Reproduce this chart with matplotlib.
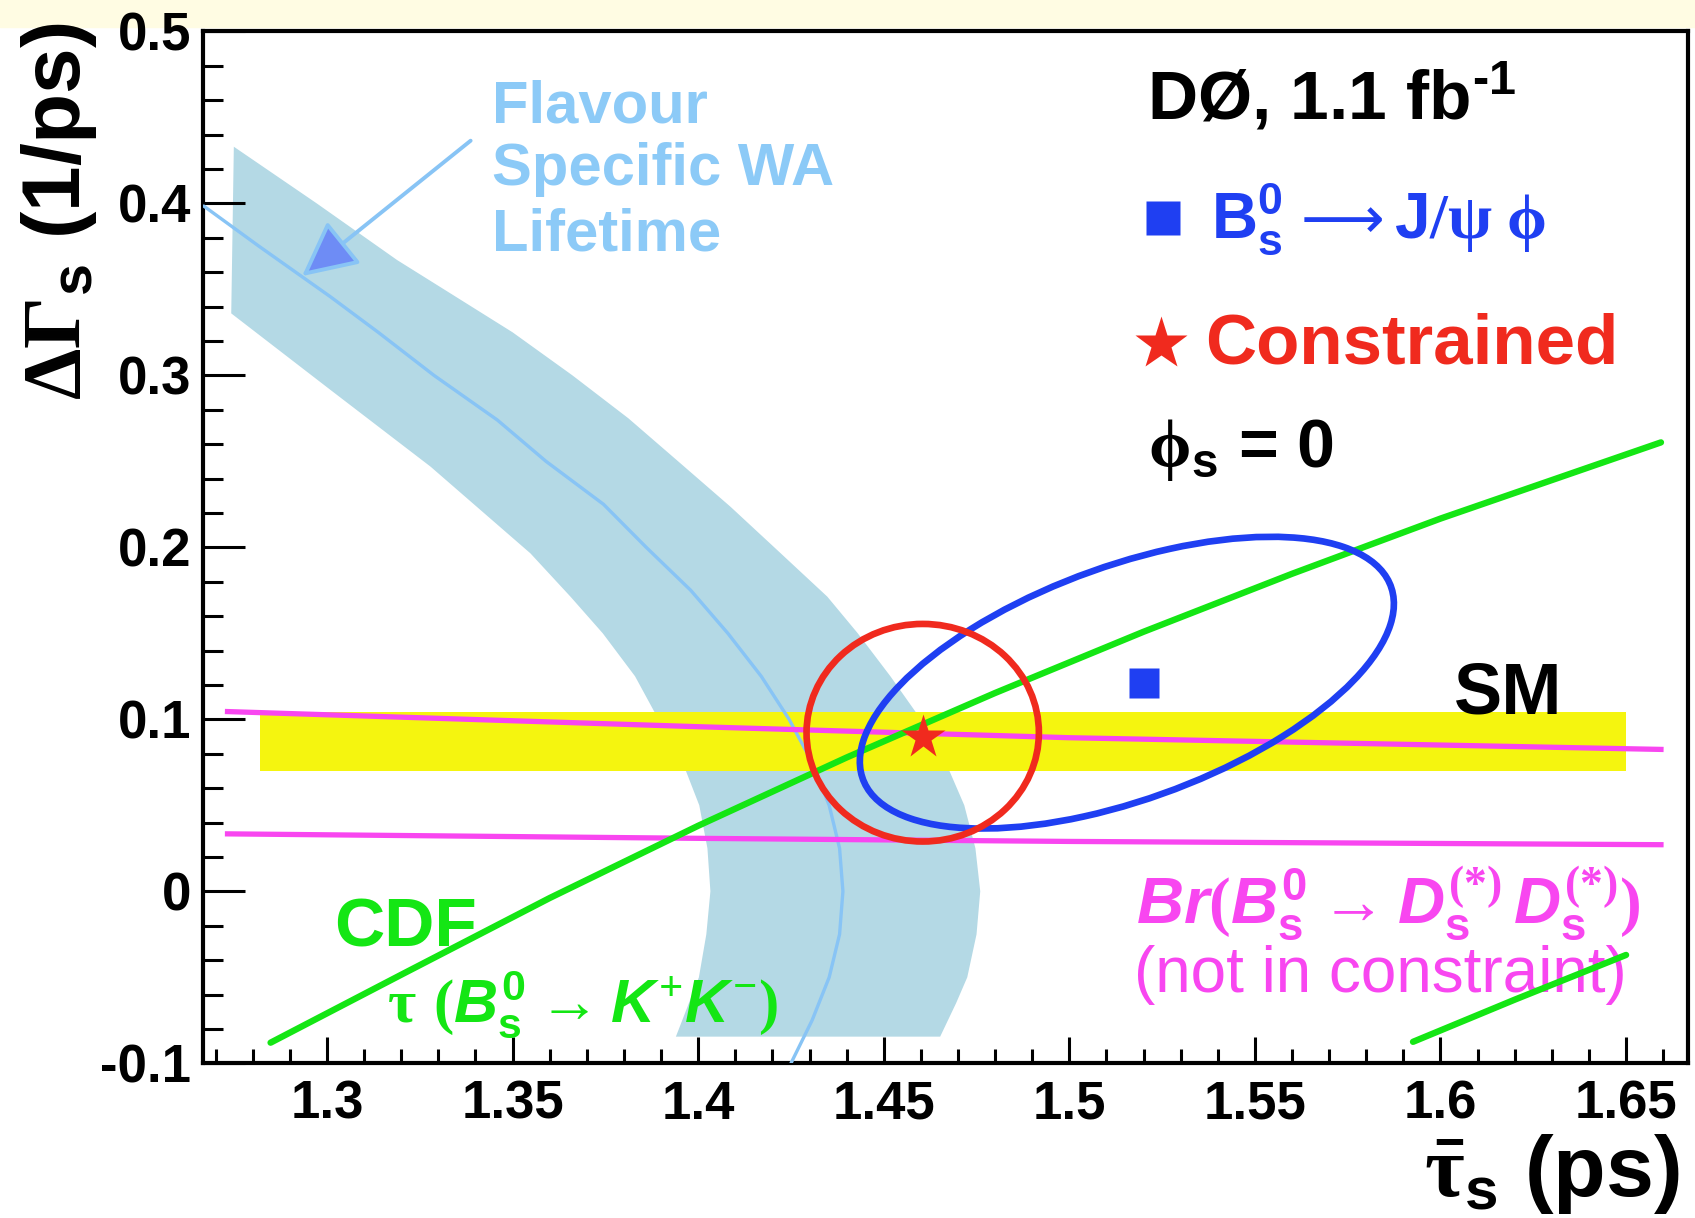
import matplotlib
matplotlib.use("Agg")
import matplotlib.pyplot as plt
from matplotlib.patches import Ellipse, Rectangle
from matplotlib.ticker import MultipleLocator

# flavour-specific world average band: upper edge (top-left -> bottom), lower edge (bottom -> top-left)
band_up_x = [1.2749, 1.2972, 1.3189, 1.3315, 1.3500, 1.3661, 1.3812, 1.3946, 1.4087,
             1.4205, 1.4348, 1.4430, 1.4518, 1.4600, 1.4667, 1.4717, 1.4747, 1.4760,
             1.4750, 1.4725, 1.4695, 1.4652]
band_up_y = [0.4329, 0.4000, 0.3670, 0.3500, 0.3250, 0.3000, 0.2750, 0.2500, 0.2236,
             0.2000, 0.1713, 0.1500, 0.1250, 0.1000, 0.0750, 0.0500, 0.0250, 0.0000,
             -0.0250, -0.0500, -0.0650, -0.0845]
band_lo_x = [1.3940, 1.4002, 1.4022, 1.4033, 1.4025, 1.4003, 1.3958, 1.3893, 1.3830,
             1.3743, 1.3656, 1.3548, 1.3279, 1.3010, 1.2742]
band_lo_y = [-0.0845, -0.0500, -0.0250, 0.0000, 0.0250, 0.0500, 0.0750, 0.1000, 0.1250,
             0.1500, 0.1713, 0.1965, 0.2469, 0.2914, 0.3360]
wa_x = [1.2668, 1.2817, 1.3009, 1.3138, 1.3288, 1.3459, 1.3590, 1.3745, 1.3860, 1.3980,
        1.4080, 1.4170, 1.4245, 1.4307, 1.4353, 1.4381, 1.4390, 1.4381, 1.4353, 1.4307,
        1.4250]
wa_y = [0.3984, 0.375, 0.3457, 0.325, 0.300, 0.274, 0.250, 0.225, 0.200, 0.175,
        0.150, 0.125, 0.100, 0.075, 0.050, 0.025, 0.000, -0.025, -0.050, -0.075,
        -0.100]

# CDF B_s -> K+K- lifetime lines
cdf_x = [1.2848, 1.32, 1.36, 1.40, 1.44, 1.48, 1.52, 1.56, 1.60, 1.6594]
cdf_y = [-0.088, -0.0485, -0.0039, 0.0381, 0.0778, 0.1153, 0.1509, 0.1846, 0.2167, 0.261]
cdf2_x = [1.5926, 1.62, 1.65]
cdf2_y = [-0.0875, -0.063, -0.037]

# Br(Bs -> Ds(*) Ds(*)) lines
br_x = [1.2732, 1.40, 1.50, 1.6594]
br_hi = [0.1045, 0.0957, 0.0893, 0.0825]
br_lo = [0.0334, 0.0308, 0.0290, 0.0271]

# SM band
sm_x = [1.282, 1.650]
sm_lo = 0.070
sm_hi = 0.104

# fit results and 1-sigma contours (centre x, centre y, width, height, angle)
jpsi_pt = (1.520, 0.121)
jpsi_ell = (1.5155, 0.1213, 0.1963, 0.1046, 53.5)
con_pt = (1.4605, 0.0895)
con_ell = (1.4605, 0.0922, 0.0626, 0.1265, 0.0)

xticks = [1.3, 1.35, 1.4, 1.45, 1.5, 1.55, 1.6, 1.65]
xlabels = ["1.3", "1.35", "1.4", "1.45", "1.5", "1.55", "1.6", "1.65"]
yticks = [-0.1, 0.0, 0.1, 0.2, 0.3, 0.4, 0.5]
ylabels = ["-0.1", "0", "0.1", "0.2", "0.3", "0.4", "0.5"]

plt.rcParams["font.family"] = ["Liberation Sans", "DejaVu Sans"]
plt.rcParams["font.weight"] = "bold"
plt.rcParams["mathtext.fontset"] = "custom"
plt.rcParams["mathtext.rm"] = "Liberation Serif"
plt.rcParams["mathtext.it"] = "Liberation Sans:italic:bold"
plt.rcParams["mathtext.bf"] = "Liberation Sans:bold"
plt.rcParams["mathtext.sf"] = "Liberation Sans:bold"

LBLUE = "#b4d9e5"
LINE = "#88c4f5"
BLUE = "#1f3ff2"
RED = "#f02a1e"
GREEN = "#14e614"
MAG = "#f846f0"
YEL = "#f5f50f"

fig = plt.figure(figsize=(16.95, 12.18), dpi=100)
fig.patches.append(Rectangle((0, 0.978), 1, 0.022, transform=fig.transFigure,
                             color="#fffce3", zorder=-5))
ax = fig.add_axes([0.1200, 0.1270, 0.8759, 0.8473])
ax.patch.set_alpha(0)

ax.fill(band_up_x + band_lo_x, band_up_y + band_lo_y, color=LBLUE, lw=0, zorder=1)
ax.fill_between(sm_x, sm_lo, sm_hi, color=YEL, lw=0, zorder=2)
ax.plot(wa_x, wa_y, color=LINE, lw=2.4, zorder=3, solid_capstyle="round")
ax.plot(br_x, br_hi, color=MAG, lw=3.8, zorder=4)
ax.plot(br_x, br_lo, color=MAG, lw=3.8, zorder=4)
ax.plot(cdf_x, cdf_y, color=GREEN, lw=4.6, zorder=5, solid_capstyle="round")
ax.plot(cdf2_x, cdf2_y, color=GREEN, lw=4.6, zorder=5, solid_capstyle="round")

cx, cy, w, h, ang = jpsi_ell
ax.add_patch(Ellipse((cx, cy), w, h, angle=ang, fill=False, ec=BLUE, lw=4.8, zorder=6))
cx, cy, w, h, ang = con_ell
ax.add_patch(Ellipse((cx, cy), w, h, angle=ang, fill=False, ec=RED, lw=4.8, zorder=7))
ax.plot(*jpsi_pt, marker="s", ms=22, color=BLUE, mec="none", zorder=8)
ax.plot(*con_pt, marker="*", ms=33, color=RED, mec="none", zorder=8)

# arrow + label for the flavour specific band
ax.annotate("", xy=(1.2933, 0.3577), xytext=(1.3387, 0.4364),
            arrowprops=dict(arrowstyle="-|>,head_length=0.9,head_width=0.45",
                            mutation_scale=38, lw=2.8, ec=LINE, fc="#6e8cf5",
                            shrinkA=0, shrinkB=0), zorder=4)
for txt, yy in [("Flavour", 0.4469), ("Specific WA", 0.4106), ("Lifetime", 0.3724)]:
    ax.text(1.3445, yy, txt, color="#8ccaf7", fontsize=43, va="baseline", zorder=9)

ax.text(1.5208, 0.449, "DØ, 1.1 fb$^{\\mathbf{\u20101}}$", fontsize=50, va="baseline")
ax.plot(1.5252, 0.3914, marker="s", ms=24, color=BLUE, mec="none")
ax.text(1.5383, 0.380, r"$\mathbf{B^0_s}$", fontsize=46, color=BLUE, va="baseline")
ax.text(1.5622, 0.380, "\u27f6", fontsize=42, color=BLUE, va="baseline",
        family="DejaVu Sans", fontweight="normal")
ax.text(1.5875, 0.380, r"$\mathbf{J}/\mathrm{\psi}\;\mathrm{\phi}$", fontsize=46,
        color=BLUE, va="baseline")
ax.plot(1.5246, 0.3182, marker="*", ms=40, color=RED, mec="none")
ax.text(1.5367, 0.3066, "Constrained", fontsize=51, color=RED, va="baseline")
ax.text(1.5213, 0.2467, r"$\mathrm{\phi}_{\mathbf{s}}$ = 0", fontsize=49, va="baseline")
ax.text(1.6037, 0.1034, "SM", fontsize=52, va="baseline")
ax.text(1.3018, -0.0318, "CDF", fontsize=50, color=GREEN, va="baseline")
ax.text(1.3163, -0.0757,
        r"$\mathrm{\tau}\ (B^{\mathbf{0}}_{\mathbf{s}} \rightarrow K^{+}K^{-})$",
        fontsize=44, color=GREEN, va="baseline")
ax.text(1.5179, -0.019,
        r"$Br(B^{\mathbf{0}}_{\mathbf{s}} \rightarrow D^{(*)}_{\mathbf{s}}\,D^{(*)}_{\mathbf{s}})$",
        fontsize=47, color=MAG, va="baseline")
ax.text(1.5173, -0.0585, "(not in constraint)", fontsize=46, color=MAG,
        fontweight="normal", va="baseline")

ax.set_xlim(1.2667, 1.6667)
ax.set_ylim(-0.1, 0.5)
ax.set_xticks(xticks)
ax.set_xticklabels(xlabels)
ax.set_yticks(yticks)
ax.set_yticklabels(ylabels)
ax.xaxis.set_minor_locator(MultipleLocator(0.01))
ax.yaxis.set_minor_locator(MultipleLocator(0.02))
ax.tick_params(which="both", direction="in", top=False, right=False, width=2.2,
               labelsize=38)
ax.tick_params(axis="x", which="major", length=19, pad=12)
ax.tick_params(axis="x", which="minor", length=10)
ax.tick_params(axis="y", which="major", length=30, pad=9)
ax.tick_params(axis="y", which="minor", length=14.5)
for s in ax.spines.values():
    s.set_linewidth(3)

fig.text(0.0472, 0.6716, r"$\Delta\Gamma_{\mathbf{s}}$ (1/ps)", fontsize=59,
         rotation=90, rotation_mode="anchor", ha="left", va="baseline")
fig.text(0.991, 0.018, r"$\bar{\mathrm{\tau}}_{\mathbf{s}}$ (ps)", fontsize=62,
         ha="right", va="baseline")

fig.savefig("out.png", dpi=100)
